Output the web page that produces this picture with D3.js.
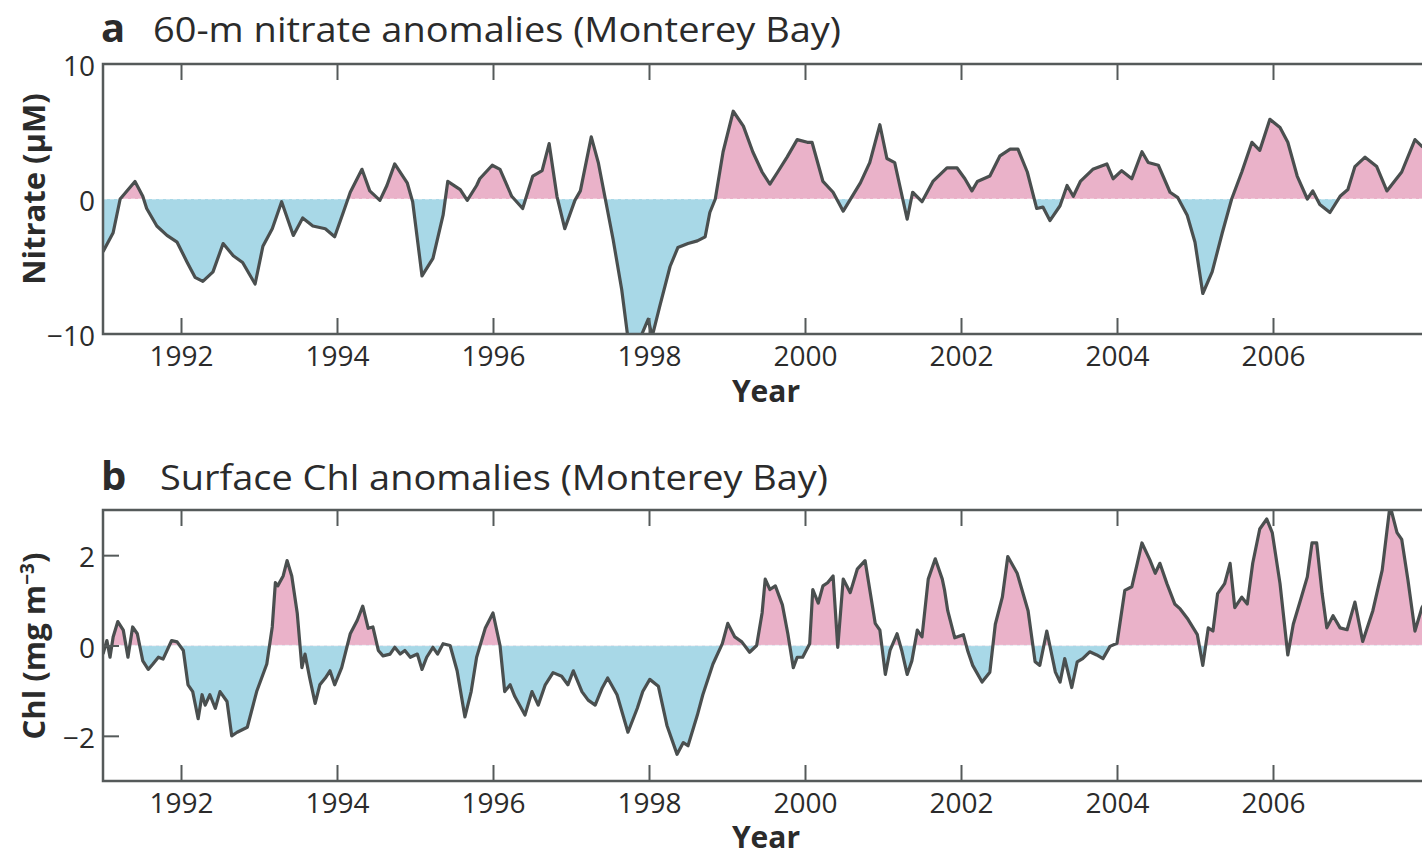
<!DOCTYPE html>
<html>
<head>
<meta charset="utf-8">
<script src="https://cdn.jsdelivr.net/npm/d3@7"></script>
<style>
  html, body { margin: 0; padding: 0; background: #fff; overflow: hidden; }
  svg { display: block; font-family: "Open Sans", "Noto Sans", sans-serif; }
</style>
</head>
<body>
<svg id="chart" width="1422" height="856"></svg>
<script>
// 60-m nitrate anomalies (µM), Monterey Bay
const nitrateYears = [1991.00,1991.13,1991.22,1991.41,1991.51,1991.56,1991.69,1991.82,1991.95,1992.08,1992.18,1992.28,1992.41,1992.54,1992.67,1992.79,1992.95,1993.05,1993.17,1993.29,1993.44,1993.56,1993.69,1993.85,1993.97,1994.08,1994.17,1994.32,1994.42,1994.55,1994.64,1994.74,1994.90,1994.97,1995.09,1995.23,1995.36,1995.42,1995.58,1995.67,1995.79,1995.83,1995.99,1996.09,1996.24,1996.38,1996.51,1996.63,1996.72,1996.82,1996.92,1997.05,1997.12,1997.26,1997.35,1997.44,1997.54,1997.65,1997.73,1997.88,1997.99,1998.04,1998.14,1998.27,1998.37,1998.50,1998.62,1998.72,1998.78,1998.85,1998.95,1999.08,1999.21,1999.33,1999.45,1999.55,1999.65,1999.77,1999.90,2000.03,2000.09,2000.23,2000.36,2000.49,2000.71,2000.83,2000.96,2001.05,2001.15,2001.31,2001.38,2001.50,2001.64,2001.82,2001.95,2002.05,2002.14,2002.21,2002.37,2002.50,2002.63,2002.73,2002.85,2002.97,2003.05,2003.14,2003.27,2003.36,2003.44,2003.53,2003.69,2003.87,2003.95,2004.06,2004.19,2004.32,2004.40,2004.53,2004.68,2004.78,2004.90,2005.00,2005.10,2005.22,2005.35,2005.47,2005.60,2005.73,2005.83,2005.96,2006.09,2006.19,2006.31,2006.44,2006.51,2006.60,2006.73,2006.86,2006.96,2007.05,2007.18,2007.33,2007.46,2007.65,2007.82,2007.91,2008.00];
const nitrateValues = [-3.9,-2.5,0.0,1.3,0.2,-0.7,-2.0,-2.7,-3.2,-4.7,-5.8,-6.1,-5.4,-3.3,-4.2,-4.7,-6.3,-3.5,-2.2,-0.2,-2.7,-1.4,-2.0,-2.2,-2.8,-1.0,0.5,2.2,0.6,-0.1,1.0,2.6,1.2,-0.2,-5.7,-4.4,-1.2,1.3,0.7,-0.1,1.0,1.5,2.5,2.2,0.2,-0.7,1.7,2.1,4.1,0.2,-2.2,-0.1,0.6,4.6,2.7,0.0,-3.0,-6.7,-10.3,-10.4,-8.9,-10.2,-7.9,-5.0,-3.6,-3.3,-3.1,-2.8,-1.0,0.0,3.5,6.5,5.4,3.5,2.0,1.1,2.0,3.1,4.4,4.2,4.2,1.3,0.5,-0.9,1.2,2.7,5.5,3.0,2.7,-1.5,0.5,-0.2,1.3,2.3,2.3,1.5,0.6,1.3,1.7,3.2,3.7,3.7,2.0,-0.7,-0.6,-1.6,-0.5,1.0,0.2,1.3,2.2,2.6,1.5,2.1,1.5,3.5,2.7,2.5,0.5,0.1,-1.2,-3.2,-7.0,-5.4,-2.5,0.0,2.0,4.2,3.6,5.9,5.3,4.2,1.7,0.0,0.6,-0.4,-1.0,0.2,0.7,2.4,3.1,2.4,0.6,2.0,4.4,3.9,3.6];

// Surface chlorophyll anomalies (mg m^-3), Monterey Bay
const chlYears = [1991.00,1991.05,1991.09,1991.13,1991.19,1991.26,1991.32,1991.38,1991.44,1991.51,1991.58,1991.64,1991.71,1991.77,1991.88,1991.95,1992.03,1992.09,1992.15,1992.22,1992.27,1992.31,1992.37,1992.44,1992.50,1992.59,1992.65,1992.72,1992.85,1992.97,1993.10,1993.17,1993.21,1993.24,1993.31,1993.36,1993.42,1993.49,1993.55,1993.59,1993.65,1993.72,1993.78,1993.85,1993.91,1993.97,1994.06,1994.17,1994.26,1994.33,1994.40,1994.46,1994.53,1994.59,1994.68,1994.74,1994.81,1994.87,1994.94,1995.03,1995.09,1995.15,1995.23,1995.29,1995.36,1995.45,1995.54,1995.64,1995.72,1995.79,1995.90,1996.00,1996.09,1996.15,1996.22,1996.28,1996.41,1996.50,1996.58,1996.67,1996.77,1996.88,1996.96,1997.03,1997.14,1997.22,1997.31,1997.40,1997.47,1997.59,1997.73,1997.85,1997.92,1998.01,1998.12,1998.23,1998.36,1998.44,1998.50,1998.62,1998.69,1998.82,1998.94,1999.01,1999.10,1999.19,1999.29,1999.38,1999.45,1999.49,1999.55,1999.62,1999.71,1999.78,1999.85,1999.90,1999.97,2000.06,2000.10,2000.17,2000.23,2000.29,2000.36,2000.42,2000.49,2000.58,2000.67,2000.77,2000.83,2000.90,2000.96,2001.03,2001.09,2001.18,2001.24,2001.31,2001.37,2001.44,2001.50,2001.58,2001.67,2001.76,2001.79,2001.83,2001.92,2002.03,2002.09,2002.15,2002.27,2002.37,2002.44,2002.53,2002.60,2002.72,2002.86,2002.95,2003.01,2003.10,2003.21,2003.27,2003.33,2003.42,2003.49,2003.56,2003.65,2003.74,2003.82,2003.91,2004.00,2004.10,2004.19,2004.26,2004.32,2004.42,2004.49,2004.55,2004.64,2004.74,2004.81,2004.91,2005.03,2005.10,2005.17,2005.23,2005.29,2005.38,2005.45,2005.51,2005.60,2005.67,2005.74,2005.83,2005.92,2005.99,2006.09,2006.19,2006.26,2006.35,2006.44,2006.50,2006.56,2006.63,2006.69,2006.77,2006.86,2006.95,2007.05,2007.15,2007.28,2007.40,2007.50,2007.59,2007.65,2007.73,2007.82,2007.91,2008.00];
const chlValues = [-0.19,0.11,-0.26,0.19,0.53,0.34,-0.26,0.41,0.26,-0.34,-0.53,-0.41,-0.26,-0.30,0.11,0.08,-0.11,-0.87,-1.02,-1.62,-1.09,-1.32,-1.09,-1.39,-1.02,-1.24,-2.00,-1.92,-1.81,-1.02,-0.41,0.41,1.39,1.32,1.54,1.88,1.54,0.72,-0.49,-0.19,-0.72,-1.28,-0.87,-0.72,-0.56,-0.87,-0.49,0.26,0.56,0.87,0.38,0.41,-0.11,-0.23,-0.19,-0.04,-0.19,-0.11,-0.26,-0.19,-0.53,-0.26,-0.04,-0.19,0.04,0.00,-0.56,-1.58,-1.02,-0.26,0.38,0.72,0.00,-1.02,-0.87,-1.13,-1.54,-1.02,-1.32,-0.87,-0.60,-0.68,-0.87,-0.56,-1.02,-1.21,-1.32,-0.94,-0.72,-1.09,-1.92,-1.39,-1.02,-0.75,-0.90,-1.77,-2.41,-2.15,-2.22,-1.54,-1.09,-0.41,0.04,0.49,0.19,0.08,-0.15,0.00,0.72,1.47,1.24,1.32,0.90,0.26,-0.49,-0.26,-0.26,0.04,1.24,0.94,1.32,1.39,1.54,-0.04,1.47,1.17,1.69,1.88,1.24,0.49,0.34,-0.64,-0.11,0.26,-0.11,-0.64,-0.34,0.34,0.19,1.47,1.92,1.47,1.22,0.77,0.17,0.24,-0.14,-0.44,-0.81,-0.59,0.47,1.07,1.97,1.60,0.77,-0.36,-0.44,0.32,-0.59,-0.81,-0.29,-0.93,-0.36,-0.29,-0.14,-0.21,-0.29,-0.02,0.05,1.22,1.30,1.82,2.27,1.90,1.60,1.82,1.37,0.92,0.81,0.58,0.24,-0.44,0.39,0.32,1.15,1.37,1.82,0.84,1.07,0.92,1.82,2.58,2.80,2.50,1.37,-0.21,0.47,0.99,1.52,2.27,2.27,1.15,0.39,0.66,0.39,0.35,0.96,0.09,0.77,1.67,3.10,2.50,2.35,1.45,0.32,0.84,1.10];

const yearTicks = [1992, 1994, 1996, 1998, 2000, 2002, 2004, 2006];
const nitrateTicks = [-10, 0, 10];
const chlTicks = [-2, 0, 2];

const svg = d3.select("#chart");

const colors = {
  pos: "#eab2c9",
  neg: "#a8d8e7",
  line: "#4a4f4f",
  frame: "#555a5a",
  text: "#2b2b2b"
};

const plotLeft = 103, plotRight = 1429;
const x = d3.scaleLinear().domain([1991, 2008]).range([plotLeft, plotRight]);

function cleanAxis(sel) {
  sel.attr("font-family", null).attr("font-size", null);
  sel.select(".domain").remove();
  sel.selectAll(".tick line").attr("stroke", colors.frame).attr("stroke-width", 2);
  sel.selectAll(".tick text").attr("fill", colors.text).style("font-size", "28px");
}

function drawPanel(cfg) {
  const g = svg.append("g");
  const y = d3.scaleLinear().domain(cfg.domain).range([cfg.bottom, cfg.top]);
  const data = cfg.years.map((t, i) => ({ t, v: cfg.values[i] }));
  const id = cfg.id;
  const y0 = y(0);

  const defs = g.append("defs");
  defs.append("clipPath").attr("id", id + "-plot")
    .append("rect").attr("x", plotLeft).attr("y", cfg.top)
    .attr("width", plotRight - plotLeft).attr("height", cfg.bottom - cfg.top);
  defs.append("clipPath").attr("id", id + "-above")
    .append("rect").attr("x", plotLeft).attr("y", cfg.top)
    .attr("width", plotRight - plotLeft).attr("height", y0 - cfg.top);
  defs.append("clipPath").attr("id", id + "-below")
    .append("rect").attr("x", plotLeft).attr("y", y0)
    .attr("width", plotRight - plotLeft).attr("height", cfg.bottom - y0);

  const area = d3.area().x(d => x(d.t)).y0(y0).y1(d => y(d.v));
  const line = d3.line().x(d => x(d.t)).y(d => y(d.v));

  const plot = g.append("g").attr("clip-path", `url(#${id}-plot)`);
  plot.append("path").datum(data).attr("d", area)
    .attr("fill", colors.pos).attr("clip-path", `url(#${id}-above)`);
  plot.append("path").datum(data).attr("d", area)
    .attr("fill", colors.neg).attr("clip-path", `url(#${id}-below)`);
  // faint dashed zero reference
  plot.append("line")
    .attr("x1", plotLeft).attr("x2", plotRight).attr("y1", y0).attr("y2", y0)
    .attr("stroke", "#ffffff").attr("stroke-opacity", 0.45)
    .attr("stroke-width", 1.5).attr("stroke-dasharray", "4,3");
  plot.append("path").datum(data).attr("d", line)
    .attr("fill", "none").attr("stroke", colors.line)
    .attr("stroke-width", 3.2).attr("stroke-linejoin", "round");

  // bottom axis: inward ticks and year labels
  const tickLen = 16;
  const xb = d3.axisBottom(x).tickValues(yearTicks).tickFormat(d3.format("d"))
    .tickSizeInner(-tickLen).tickSizeOuter(0);
  const gxb = g.append("g").attr("transform", `translate(0,${cfg.bottom})`).call(xb);
  cleanAxis(gxb);
  gxb.selectAll(".tick text").attr("y", 12).attr("dy", "0.71em");

  const xt = d3.axisTop(x).tickValues(yearTicks).tickFormat("")
    .tickSizeInner(-tickLen).tickSizeOuter(0);
  const gxt = g.append("g").attr("transform", `translate(0,${cfg.top})`).call(xt);
  cleanAxis(gxt);

  // left axis
  const yl = d3.axisLeft(y).tickValues(cfg.ticks)
    .tickFormat(d => d < 0 ? "\u2212" + Math.abs(d) : d)
    .tickSizeInner(cfg.yTickMarks ? -tickLen : 0).tickSizeOuter(0);
  const gyl = g.append("g").attr("transform", `translate(${plotLeft},0)`).call(yl);
  cleanAxis(gyl);
  gyl.selectAll(".tick text").attr("x", -8).attr("dy", "0.42em");

  // frame
  g.append("rect").attr("x", plotLeft).attr("y", cfg.top)
    .attr("width", plotRight - plotLeft).attr("height", cfg.bottom - cfg.top)
    .attr("fill", "none").attr("stroke", colors.frame).attr("stroke-width", 2.5);

  // panel letter and title
  g.append("text").attr("x", plotLeft - 2).attr("y", cfg.titleY)
    .attr("font-weight", 700).style("font-size", "40px").attr("fill", colors.text)
    .text(cfg.letter);
  g.append("text").attr("x", cfg.titleX).attr("y", cfg.titleY)
    .style("font-size", "34px").attr("fill", colors.text)
    .attr("textLength", cfg.titleWidth).attr("lengthAdjust", "spacingAndGlyphs")
    .text(cfg.title);

  // x axis title
  g.append("text").attr("x", 766).attr("y", cfg.bottom + cfg.xLabelDy)
    .attr("text-anchor", "middle").attr("font-weight", 700)
    .style("font-size", "30px").attr("fill", colors.text).text("Year");

  // y axis title
  const yt = g.append("text")
    .attr("transform", `translate(45,${cfg.yLabelY}) rotate(-90)`)
    .attr("text-anchor", "middle").attr("font-weight", 700)
    .style("font-size", "31px").attr("fill", colors.text);
  cfg.yLabel(yt);
}

drawPanel({
  id: "nitrate", top: 64, bottom: 334, domain: [-10, 10],
  years: nitrateYears, values: nitrateValues, ticks: nitrateTicks, yTickMarks: false,
  letter: "a", title: "60-m nitrate anomalies (Monterey Bay)",
  titleX: 153, titleY: 42, titleWidth: 688, xLabelDy: 68,
  yLabelY: 189,
  yLabel: t => t.text("Nitrate (\u03bcM)")
});

drawPanel({
  id: "chl", top: 510, bottom: 781, domain: [-3, 3],
  years: chlYears, values: chlValues, ticks: chlTicks, yTickMarks: true,
  letter: "b", title: "Surface Chl anomalies (Monterey Bay)",
  titleX: 160, titleY: 490, titleWidth: 668, xLabelDy: 67,
  yLabelY: 646,
  yLabel: t => {
    t.append("tspan").text("Chl (mg m");
    t.append("tspan").text("\u22123").attr("dy", -11).style("font-size", "19px");
    t.append("tspan").text(")").attr("dy", 11);
  }
});
</script>
</body>
</html>
